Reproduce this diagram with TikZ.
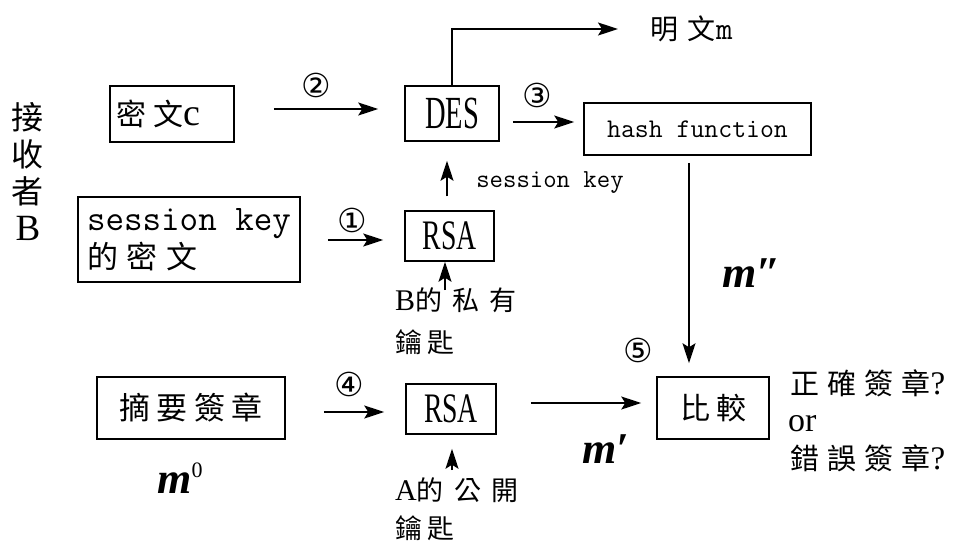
\documentclass[tikz,border=0pt]{standalone}
\usepackage{fontspec}
\usepackage{graphicx}
\setmainfont{Liberation Serif}
\newfontfamily\cjk[LetterSpace=20]{Noto Sans CJK TC}
\newfontfamily\cjkn{Noto Sans CJK TC}
\newfontfamily\sym{DejaVu Sans}
\usetikzlibrary{arrows.meta,calc}
\tikzset{
  box/.style={draw, line width=1.5pt, inner sep=0pt, anchor=center},
  arr/.style={-{Stealth[length=20pt,width=13pt,inset=4pt]}, line width=1.5pt},
  num/.style={font=\sym\fontsize{33}{33}\selectfont, inner sep=0pt},
  lbl/.style={inner sep=0pt},
  mlab/.style={inner sep=0pt, font=\bfseries\itshape\fontsize{44}{44}\selectfont},
}
\begin{document}
\begin{tikzpicture}[x=1pt,y=-1pt]
\useasboundingbox (0,0) rectangle (962,542);

% boxes
\node[box, minimum width=124pt, minimum height=56pt] (c1) at (172,114)
  {\makebox[112pt][l]{\cjk\fontsize{30}{30}\selectfont\addfontfeatures{LetterSpace=25}密文{\rmfamily\fontsize{38}{38}\selectfont c}}};
\node[box, minimum width=222pt, minimum height=85pt, align=left] (sk) at (189,239.5)
  {{\ttfamily\fontsize{36}{39}\selectfont session key}\\[2pt]{\cjk\fontsize{31}{31}\selectfont\addfontfeatures{LetterSpace=28}的密文}};
\node[box, minimum width=94pt, minimum height=55pt] (des) at (452,113.5)
  {\scalebox{0.62}[1]{\fontsize{46}{46}\selectfont DES}};
\node[box, minimum width=89pt, minimum height=50pt] (rsa1) at (449.5,236)
  {\scalebox{0.66}[1]{\fontsize{42}{42}\selectfont RSA}};
\node[box, minimum width=227pt, minimum height=52pt] (hash) at (697.5,129)
  {\ttfamily\fontsize{27}{27}\selectfont hash function};
\node[box, minimum width=188pt, minimum height=62pt] (dig) at (191,408)
  {\cjk\fontsize{31}{31}\selectfont 摘要簽章};
\node[box, minimum width=90pt, minimum height=50pt] (rsa2) at (451,409)
  {\scalebox{0.66}[1]{\fontsize{42}{42}\selectfont RSA}};
\node[box, minimum width=112pt, minimum height=62pt] (cmp) at (713,408)
  {\cjk\fontsize{30}{30}\selectfont 比較};

% free texts
\node[lbl, anchor=west] (pm) at (650,29)
  {\cjk\fontsize{28}{28}\selectfont\addfontfeatures{LetterSpace=35}明文{\ttfamily\fontsize{32}{32}\selectfont m}};
\node[lbl, align=center, font=\cjkn\fontsize{32}{37}\selectfont] (recv) at (28,172)
  {接\\收\\者\\{\rmfamily\fontsize{37}{37}\selectfont B}};
\node[lbl, anchor=west] (r1) at (790,383)
  {\cjk\fontsize{29}{29}\selectfont\addfontfeatures{LetterSpace=28}正確簽章{\rmfamily\fontsize{33}{33}\selectfont ?}};
\node[lbl, anchor=west] (r2) at (788,424)
  {\fontsize{34}{34}\selectfont or};
\node[lbl, anchor=west] (r3) at (790,458)
  {\cjk\fontsize{29}{29}\selectfont\addfontfeatures{LetterSpace=28}錯誤簽章{\rmfamily\fontsize{33}{33}\selectfont ?}};
\node[lbl, anchor=west] (kB1) at (395,300)
  {{\fontsize{30}{30}\selectfont B}{\cjk\fontsize{27}{27}\selectfont\addfontfeatures{LetterSpace=38}的私有}};
\node[lbl, anchor=west] (kB2) at (395,342)
  {\cjk\fontsize{27}{27}\selectfont 鑰匙};
\node[lbl, anchor=west] (kA1) at (395,490)
  {{\fontsize{30}{30}\selectfont A}{\cjk\fontsize{27}{27}\selectfont\addfontfeatures{LetterSpace=38}的公開}};
\node[lbl, anchor=west] (kA2) at (395,528)
  {\cjk\fontsize{27}{27}\selectfont 鑰匙};
\node[lbl, font=\ttfamily\fontsize{26}{26}\selectfont] (skl) at (550,183) {session key};
\node[mlab] (mpp) at (752,273) {m″};
\node[mlab] (mp) at (606,449) {m′};
\node[mlab] (m0) at (180,478) {m\raisebox{16pt}{\mdseries\upshape\fontsize{22}{22}\selectfont 0}};

% step numbers
\node[num] (n1) at (352,220) {①};
\node[num] (n2) at (316,85) {②};
\node[num] (n3) at (537,95) {③};
\node[num] (n4) at (349,384) {④};
\node[num] (n5) at (638,350) {⑤};

% key arrow anchors
\coordinate (kBa) at (445,290);
\coordinate (kAa) at (452,470);

% connectors
\draw[arr] ([shift={(39pt,5pt)}]c1.east) -- ([shift={(-26pt,4.5pt)}]des.west);
\draw[arr] ([shift={(27pt,-0.5pt)}]sk.east) -- ([shift={(-21pt,-4pt)}]rsa1.west);
\draw[arr] (des.north) |- ([xshift=-32pt]pm.west);
\draw[arr] ([shift={(13pt,-8.5pt)}]des.east) -- ([shift={(-9pt,7pt)}]hash.west);
\draw[arr] ([shift={(-2.5pt,14pt)}]rsa1.north) -- ([shift={(-5pt,-19pt)}]des.south);
\draw[arr] ([shift={(-8.5pt,-7pt)}]hash.south) -- ([shift={(-24pt,13pt)}]cmp.north);
\draw[arr] ([shift={(34pt,6pt)}]rsa2.east) -- ([shift={(-15pt,5pt)}]cmp.west);
\draw[arr] ([shift={(38pt,-4pt)}]dig.east) -- ([shift={(-21pt,-3pt)}]rsa2.west);
\draw[arr] (kBa) -- (kBa |- rsa1.south);
\draw[arr] (kAa) -- ($(kAa |- rsa2.south)+(0,14)$);
\end{tikzpicture}
\end{document}
